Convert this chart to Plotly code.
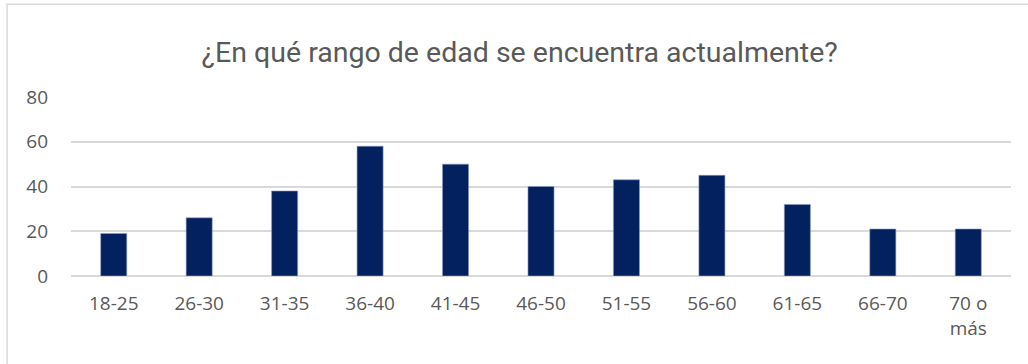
import plotly.graph_objects as go

# Respondent counts by age range
age_ranges = ["18-25", "26-30", "31-35", "36-40", "41-45", "46-50",
              "51-55", "56-60", "61-65", "66-70", "70 o<br>más"]
counts = [19, 26, 38, 58, 50, 40, 43, 45, 32, 21, 21]
y_ticks = [0, 20, 40, 60, 80]

TEXT_GREY = "#595959"
GRID_GREY = "#d9d9d9"
BAR_BLUE = "#03205f"
TICK_FONT = dict(family="Open Sans, Lato, sans-serif", size=19, color=TEXT_GREY)

fig = go.Figure(
    go.Bar(
        x=age_ranges,
        y=counts,
        marker=dict(color=BAR_BLUE, line=dict(color="#8e9cc4", width=0.6)),
        hoverinfo="x+y",
    )
)

fig.update_layout(
    width=1028,
    height=364,
    margin=dict(l=71, r=17, t=97, b=88),
    paper_bgcolor="white",
    plot_bgcolor="white",
    bargap=0.695,
    showlegend=False,
    title=dict(
        text="¿En qué rango de edad se encuentra actualmente?",
        x=0.5055,
        xanchor="center",
        y=0.857,
        yanchor="middle",
        font=dict(family="Roboto, sans-serif", size=28.5, color=TEXT_GREY),
    ),
    shapes=[
        dict(type="rect", xref="paper", yref="paper",
             x0=-0.068, x1=1.2, y0=-0.8, y1=1.518,
             line=dict(color="#d9d9d9", width=1.5), fillcolor="rgba(0,0,0,0)",
             layer="below"),
    ],
)

fig.update_xaxes(
    showgrid=False,
    showline=False,
    ticks="",
    tickfont=TICK_FONT,
    ticklabelstandoff=14,
)

fig.update_yaxes(
    range=[0, 80],
    tickvals=y_ticks,
    showgrid=True,
    gridcolor=GRID_GREY,
    gridwidth=1.5,
    zeroline=True,
    zerolinecolor=GRID_GREY,
    zerolinewidth=1.5,
    showline=False,
    ticks="",
    tickfont=TICK_FONT,
    ticklabelstandoff=22,
)

fig.write_html("out.html")
